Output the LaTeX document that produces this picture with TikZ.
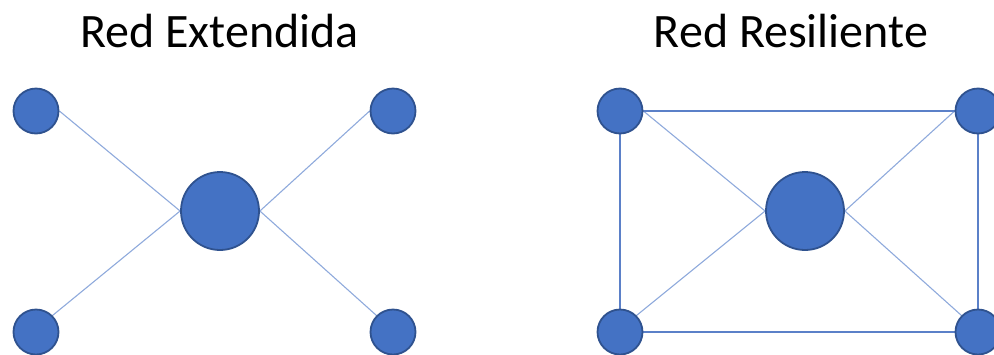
\documentclass[tikz,border=0pt]{standalone}
\usepackage{fontspec}
\usetikzlibrary{backgrounds}
\setmainfont{Carlito}
\definecolor{nodefill}{HTML}{4472C4}
\definecolor{nodeborder}{HTML}{2F528F}
\definecolor{edgelight}{HTML}{8FAADC}
\definecolor{edgedark}{HTML}{5B80C8}
\begin{document}
\begin{tikzpicture}[x=1pt,y=-1pt,
  small/.style={circle,fill=nodefill,draw=nodeborder,line width=1.8pt,minimum size=45pt,inner sep=0pt},
  big/.style={circle,fill=nodefill,draw=nodeborder,line width=1.8pt,minimum size=78pt,inner sep=0pt},
  link/.style={draw=edgelight,line width=1.1pt},
  frame/.style={draw=edgedark,line width=1.3pt},
  title/.style={anchor=base,font=\fontsize{48}{56}\selectfont,inner sep=0pt}]
\useasboundingbox (0,0) rectangle (994,354);
\clip (0,0) rectangle (994,354);
% titles
\node[title] (t1) at (219.5,47) {Red Extendida};
\node[title] (t2) at (791,47) {Red Resiliente};
% left network
\node[small] (a1) at (36,111) {};
\node[small] (a2) at (393,111) {};
\node[small] (a3) at (36,332) {};
\node[small] (a4) at (393,332) {};
\node[big] (ac) at (220,211) {};
% right network
\node[small] (b1) at (620,111) {};
\node[small] (b2) at (978,111) {};
\node[small] (b3) at (620,332) {};
\node[small] (b4) at (978,332) {};
\node[big] (bc) at (805,211) {};
% edges behind the nodes
\begin{pgfonlayer}{background}
\path[link] (a1.east) -- (ac.west) (a3.north east) -- (ac.west)
            (a2.west) -- (ac.east) (a4.north west) -- (ac.east);
\path[link] (b1.east) -- (bc.west) (b3.north east) -- (bc.west)
            (b2.west) -- (bc.east) (b4.north west) -- (bc.east);
\path[frame] (b1) -- (b2) (b2) -- (b4) (b4) -- (b3) (b3) -- (b1);
\end{pgfonlayer}
\end{tikzpicture}
\end{document}
